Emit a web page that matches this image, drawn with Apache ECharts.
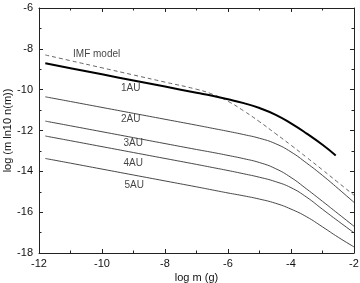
<!DOCTYPE html>
<html>
<head>
<meta charset="utf-8">
<script src="https://cdn.jsdelivr.net/npm/echarts@6/dist/echarts.min.js"></script>
<style>
  html, body { margin: 0; padding: 0; background: #fff; }
  #chart { width: 360px; height: 283px; }
</style>
</head>
<body>
<div id="chart"></div>
<script>
// log m grid shared by all curves
const logM = [-11.8, -11, -10, -9, -8, -7, -6.5, -6, -5.5, -5, -4.5, -4, -3.5, -3, -2.5, -2];

// IMF model (dashed)
const imf = [-8.3, -8.58, -8.93, -9.28, -9.63, -9.98, -10.22, -10.57, -11.04, -11.57, -12.14, -12.72, -13.32, -13.93, -14.55, -15.17];
// 1AU (thick), stops before -2
const au1 = [-8.71, -8.95, -9.25, -9.55, -9.85, -10.15, -10.3, -10.47, -10.66, -10.9, -11.22, -11.65, -12.15, -12.7, -13.22];
const au1End = -2.58;
const au2 = [-10.35, -10.58, -10.87, -11.16, -11.45, -11.74, -11.89, -12.04, -12.2, -12.38, -12.64, -13.05, -13.6, -14.2, -14.85, -15.52];
const au3 = [-11.54, -11.77, -12.06, -12.35, -12.64, -12.93, -13.07, -13.22, -13.38, -13.57, -13.86, -14.3, -14.87, -15.47, -16.08, -16.69];
const au4 = [-12.27, -12.5, -12.79, -13.08, -13.37, -13.66, -13.81, -13.96, -14.12, -14.29, -14.5, -14.8, -15.27, -15.86, -16.44, -17.01];
const au5 = [-13.37, -13.6, -13.89, -14.18, -14.47, -14.76, -14.91, -15.06, -15.2, -15.36, -15.56, -15.85, -16.23, -16.72, -17.23, -17.7];

// curve labels
const labelText = ['IMF model', '1AU', '2AU', '3AU', '4AU', '5AU'];
const labelX = [-10.17, -9.09, -9.09, -9.01, -9.01, -8.98];
const labelY = [-8.25, -9.94, -11.46, -12.63, -13.61, -14.68];

const xTicks = [-12, -10, -8, -6, -4, -2];
const yTicks = [-18, -16, -14, -12, -10, -8, -6];

function pairs(ys, xs) {
  return ys.map((v, i) => [xs ? xs[i] : logM[i], v]);
}

const chart = echarts.init(document.getElementById('chart'));

const au1Xs = logM.slice(0, au1.length - 1).concat([au1End]);

const axisFont = { color: '#111', fontSize: 11, fontFamily: 'Liberation Sans, Arial, sans-serif' };

function baseAxis(extra) {
  return Object.assign({
    type: 'value',
    axisLine: { show: true, onZero: false, lineStyle: { color: '#222', width: 1 } },
    axisTick: { show: true, inside: true, length: 4, lineStyle: { color: '#222' } },
    minorTick: { show: true, splitNumber: 2, length: 2.5, lineStyle: { color: '#222' } },
    splitLine: { show: false },
    interval: 2
  }, extra);
}

const thin = { color: '#333', width: 0.9 };

chart.setOption({
  animation: false,
  backgroundColor: '#fff',
  grid: { left: 39, right: 6, top: 8, bottom: 30, outerBoundsMode: 'none' },
  xAxis: [
    baseAxis({
      min: xTicks[0], max: xTicks[xTicks.length - 1], position: 'bottom',
      axisLabel: Object.assign({ margin: 5, formatter: v => String(v) }, axisFont),
      name: 'log m (g)', nameLocation: 'middle', nameGap: 19, nameMoveOverlap: false,
      nameTextStyle: axisFont
    }),
    baseAxis({
      min: xTicks[0], max: xTicks[xTicks.length - 1], position: 'top',
      axisLabel: { show: false }
    })
  ],
  yAxis: [
    baseAxis({
      min: yTicks[0], max: yTicks[yTicks.length - 1], position: 'left',
      axisLabel: Object.assign({ margin: 6 }, axisFont),
      name: 'log (m ln10 n(m))', nameLocation: 'middle', nameGap: 26, nameMoveOverlap: false,
      nameTextStyle: axisFont
    }),
    baseAxis({
      min: yTicks[0], max: yTicks[yTicks.length - 1], position: 'right',
      axisLabel: { show: false }
    })
  ],
  series: [
    { type: 'line', data: pairs(imf), smooth: 0.5, symbol: 'none',
      lineStyle: { color: '#555', width: 0.9, type: [4, 3] } },
    { type: 'line', data: pairs(au1, au1Xs), smooth: 0.5, symbol: 'none',
      lineStyle: { color: '#000', width: 2 } },
    { type: 'line', data: pairs(au2), smooth: 0.5, symbol: 'none', lineStyle: thin },
    { type: 'line', data: pairs(au3), smooth: 0.5, symbol: 'none', lineStyle: thin },
    { type: 'line', data: pairs(au4), smooth: 0.5, symbol: 'none', lineStyle: thin },
    { type: 'line', data: pairs(au5), smooth: 0.5, symbol: 'none', lineStyle: thin },
    {
      type: 'scatter', symbolSize: 0, silent: true,
      data: labelText.map((t, i) => ({ value: [labelX[i], labelY[i]], name: t })),
      label: {
        show: true, position: 'inside', formatter: p => p.name,
        color: '#111', fontSize: 10, fontFamily: 'Liberation Sans, Arial, sans-serif'
      }
    }
  ]
});
</script>
</body>
</html>
